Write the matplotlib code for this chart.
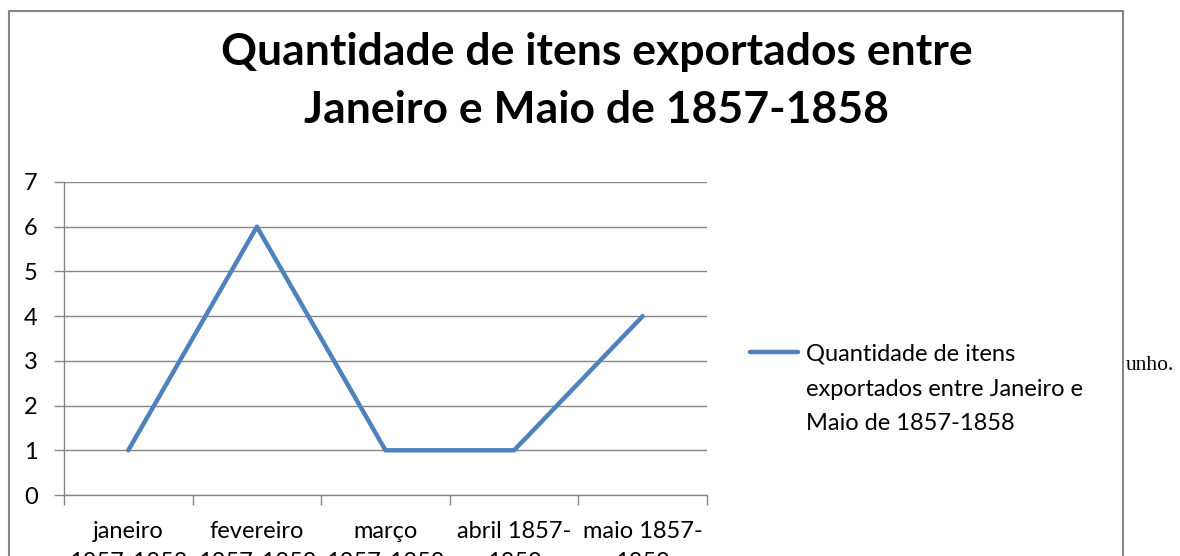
import matplotlib
matplotlib.use("Agg")
import matplotlib.pyplot as plt
from matplotlib.patches import Rectangle
from matplotlib.ticker import FixedLocator, NullFormatter

categories = ["janeiro\n1857-1858", "fevereiro\n1857-1858", "março\n1857-1858",
              "abril 1857-\n1858", "maio 1857-\n1858"]
values = [1, 6, 1, 1, 4]
series_name = "Quantidade de itens\nexportados entre Janeiro e\nMaio de 1857-1858"
title = "Quantidade de itens exportados entre\nJaneiro e Maio de 1857-1858"
yticks = [0, 1, 2, 3, 4, 5, 6, 7]

W, H = 1180, 556
fig = plt.figure(figsize=(W / 100, H / 100), dpi=100)
plt.rcParams['font.family'] = ['Lato', 'DejaVu Sans']

def fx(px):
    return px / W

def fy(py):
    return 1 - py / H

# outer chart frame
fig.patches.append(Rectangle((fx(9), fy(600)), fx(1123) - fx(9), fy(11) - fy(600),
                             transform=fig.transFigure, fill=False,
                             edgecolor="#868686", linewidth=1.5))

ax = fig.add_axes([fx(64), fy(495), fx(707) - fx(64), fy(182) - fy(495)])
grid_c = "#868686"
xs = [i + 0.5 for i in range(len(values))]
ax.plot(xs, values, color="#4F81BD", linewidth=3.2, solid_capstyle="round")
ax.set_xlim(0, len(values))
ax.set_ylim(0, 7)
ax.set_yticks(yticks)
ax.set_yticklabels([str(t) for t in yticks], fontsize=17)
ax.yaxis.grid(True, color=grid_c, linewidth=1.0)
ax.set_axisbelow(True)
ax.xaxis.set_major_locator(FixedLocator(list(range(len(values) + 1))))
ax.xaxis.set_major_formatter(NullFormatter())
ax.xaxis.set_minor_locator(FixedLocator(xs))
ax.set_xticklabels(categories, minor=True, fontsize=17, linespacing=1.55)
ax.tick_params(axis="x", which="minor", length=0, pad=19)
ax.tick_params(axis="x", which="major", length=7, color=grid_c, width=1)
ax.tick_params(axis="y", length=7, color=grid_c, width=1, pad=12)
for s in ["top", "right"]:
    ax.spines[s].set_visible(False)
for s in ["left", "bottom"]:
    ax.spines[s].set_color(grid_c)
    ax.spines[s].set_linewidth(1.0)

fig.text(fx(597), fy(81), title, ha="center", va="center", fontsize=32,
         fontweight="bold", linespacing=1.55)

# legend
fig.lines.append(plt.Line2D([fx(750), fx(798)], [fy(352), fy(352)],
                            transform=fig.transFigure, color="#4F81BD",
                            linewidth=3.2, solid_capstyle="round"))
fig.text(fx(806), fy(344), series_name, ha="left", va="top", fontsize=17,
         linespacing=1.8)

fig.text(fx(1126), fy(365), "unho.", ha="left", va="center", fontsize=15.5,
         family=["Liberation Serif"])

fig.savefig("out.png", dpi=100)
